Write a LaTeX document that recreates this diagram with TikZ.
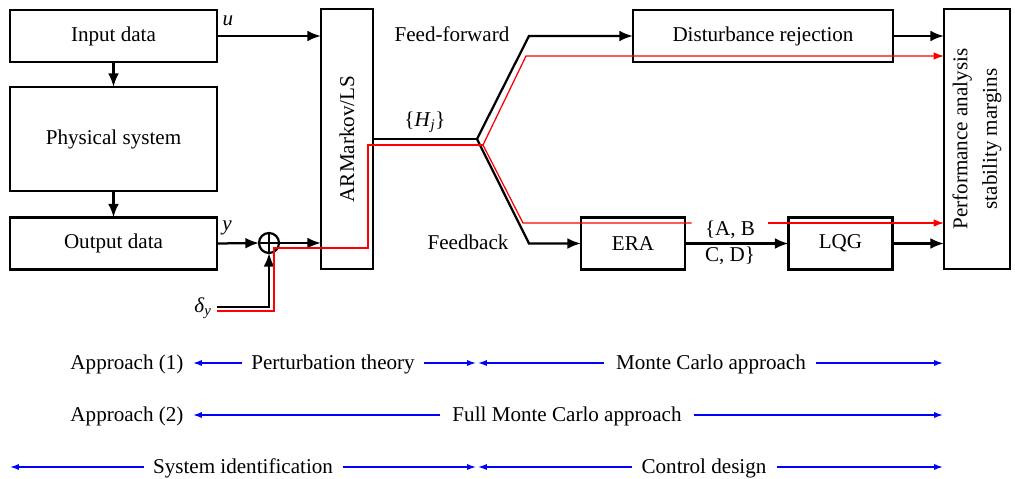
\documentclass[tikz,border=0pt]{standalone}
\usepackage{amsmath}
\usepackage{fontspec}
\setmainfont{Liberation Serif}
\usepackage{tikz}
\usetikzlibrary{positioning,arrows.meta}
\tikzset{
blockbox/.style = {rectangle, draw, line width=1.8pt, minimum width=#1, minimum height=1.3cm, inner sep=2pt, outer sep=0pt},
blockbox/.default = 2.6cm % width of ERA and LQG
}
\tikzset{
sumnode/.style = {circle, draw, line width=1.6pt, minimum size=0.5cm, inner sep=0pt, outer sep=0pt,
  path picture={\draw[line width=1.6pt] (path picture bounding box.north) -- (path picture bounding box.south)
  (path picture bounding box.west) -- (path picture bounding box.east);}}
}
\tikzset{sig/.style={line width=1.6pt, -{Latex[length=0.34cm,width=0.27cm]}}}
\tikzset{redsig/.style={red, line width=0.9pt, -{Latex[length=0.26cm,width=0.19cm]}}}
\tikzset{bluesig/.style={blue, line width=0.9pt, -{Latex[length=0.22cm,width=0.15cm]}}}
\tikzset{span/.style={anchor=base, inner sep=0pt}}

\begin{document}
\begin{tikzpicture}[x=0.025cm, y=-0.025cm, font=\fontsize{15}{18}\selectfont]
    \useasboundingbox (0,0) rectangle (1015,479);
    % identification
    \node [blockbox=5.175cm] (in) at (113.5,36) {Input data};
    \node [blockbox=5.175cm, minimum height=2.6cm] (phys) at (113.5,139) {Physical system};
    \node [blockbox=5.175cm] (out) at (113.5,243.5) {Output data};
    \node [blockbox=1.3cm, minimum height=6.5cm] (arm) at (347,139) {};
    \node [rotate=90] (armtext) at (arm.center) {ARMarkov/LS};
    \node [sumnode] (sum) at (269,243) {};
    \node (u) at (228,21) {\textit{u}};
    \node (y) at (227,228) {\textit{y}};
    \node [anchor=east, inner sep=0pt] (dy) at (212,308) {\textit{δ}\textsubscript{\textit{y}}};
    \coordinate (dyb) at (217,307);

    \draw [sig] (in.east) -- (in.east -| arm.west);
    \draw [sig] (in) -- (phys);
    \draw [sig] (phys) -- (out);
    \draw [sig] (out.east) -- (sum.west);
    \draw [sig] (sum.east) -- (sum -| arm.west);
    \draw [sig] (dyb) -| (sum.south);

    % control design
    \coordinate (jn) at (477,139);
    \coordinate (ff) at (529,36);
    \coordinate (fb) at (529,243.5);
    \node (hj) at (425,122) {\{\textit{H}\textsubscript{\textit{j}}\}};
    \node (ffl) at (452,34) {Feed-forward};
    \node (fbl) at (468,242) {Feedback};
    \node [blockbox=6.5cm] (dist) at (763,36) {Disturbance rejection};
    \node [blockbox] (era) at (633,243.5) {ERA};
    \node [blockbox] (lqg) at (840.5,243.5) {LQG};
    \node [blockbox=1.65cm, minimum height=6.5cm] (perf) at (977,139) {};
    \node [rotate=90, align=center] (perftext) at (perf.center) {Performance analysis\\[3pt]stability margins};
    \node [inner xsep=0.33cm, inner ysep=1pt] (ab) at (730,230) {\{A, B};
    \node (cd) at (730,256) {C, D\}};

    \draw [line width=1.6pt] (arm.east) -- (jn);
    \draw [sig] (jn) -- (ff) -- (dist.west);
    \draw [sig] (jn) -- (fb) -- (era.west);
    \draw [sig] (era) -- (lqg);
    \draw [sig] (dist.east) -- (dist.east -| perf.west);
    \draw [sig] (lqg.east) -- (lqg.east -| perf.west);

    % red path
    \coordinate (rs) at (217,311);
    \coordinate (ra) at (274,248);
    \coordinate (rb) at (368,145);
    \coordinate (rjn) at (483,145);
    \coordinate (rff) at (526,56);
    \coordinate (rfb) at (523,223);
    \draw [redsig, -] (rs) -| (ra) -| (rb) -- (rjn);
    \draw [redsig] (rjn) -- (rff) -- (rff -| perf.west);
    \draw [redsig, -] (rjn) -- (rfb) -- (rfb -| ab.west);
    \draw [redsig] (rfb -| ab.east) -- (rfb -| perf.west);

    % approaches
    \coordinate (l1) at (193,363);
    \coordinate (m1) at (476,363);
    \coordinate (m1b) at (478,363);
    \coordinate (r1) at (943,363);
    \coordinate (l2) at (193,415);
    \coordinate (r2) at (943,415);
    \coordinate (l3) at (10,467);
    \coordinate (m3) at (476,467);
    \coordinate (m3b) at (478,467);
    \coordinate (r3) at (943,467);

    \node [span] (ap1) at (127,369) {Approach (1)};
    \node [span] (pt) at (333,369) {Perturbation theory};
    \node [span] (mc) at (711,369) {Monte Carlo approach};
    \node [span] (ap2) at (127,421) {Approach (2)};
    \node [span] (fmc) at (567,421) {Full Monte Carlo approach};
    \node [span] (si) at (243,473) {System identification};
    \node [span] (cdes) at (704,473) {Control design};

    \draw [bluesig] ([xshift=-0.23cm]pt.west |- l1) -- (l1);
    \draw [bluesig] ([xshift=0.23cm]pt.east |- m1) -- (m1);
    \draw [bluesig] ([xshift=-0.3cm]mc.west |- m1b) -- (m1b);
    \draw [bluesig] ([xshift=0.25cm]mc.east |- r1) -- (r1);
    \draw [bluesig] ([xshift=-0.3cm]fmc.west |- l2) -- (l2);
    \draw [bluesig] ([xshift=0.3cm]fmc.east |- r2) -- (r2);
    \draw [bluesig] ([xshift=-0.23cm]si.west |- l3) -- (l3);
    \draw [bluesig] ([xshift=0.25cm]si.east |- m3) -- (m3);
    \draw [bluesig] ([xshift=-0.23cm]cdes.west |- m3b) -- (m3b);
    \draw [bluesig] ([xshift=0.25cm]cdes.east |- r3) -- (r3);
\end{tikzpicture}
\end{document}
